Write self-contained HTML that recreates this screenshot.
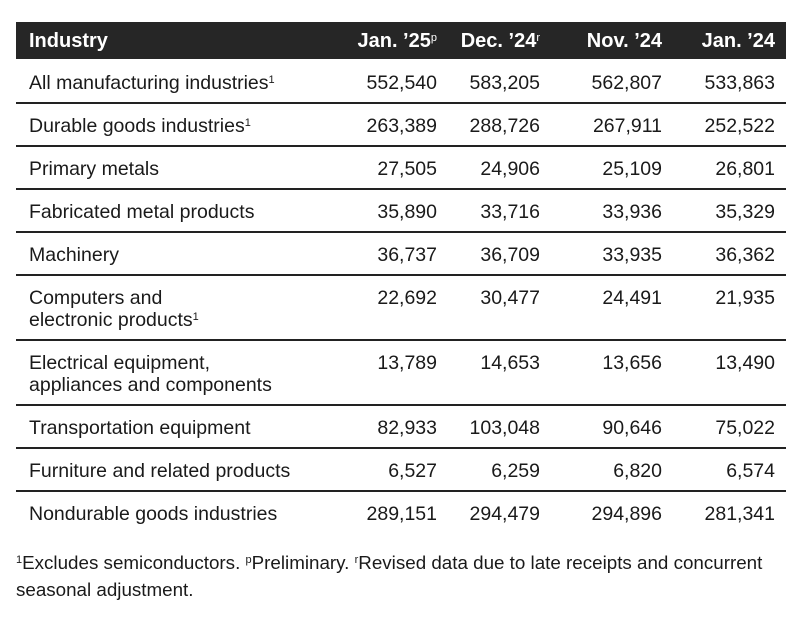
<!DOCTYPE html>
<html><head><style>
body{margin:0;width:800px;height:620px;background:#fff;font-family:"Liberation Sans",sans-serif;color:#1a1a1a;position:relative;overflow:hidden}
.hdr{position:absolute;left:16px;top:22px;width:770px;height:37px;background:#262626}
.t{position:absolute;font-size:19.5px;line-height:22px;white-space:nowrap}
.h{color:#fff;font-weight:bold;font-size:20px}
.r{text-align:right}
.ln{position:absolute;left:16px;width:770px;height:2px;background:#222}
sup{font-size:11px;vertical-align:6px;line-height:0}
.f{position:absolute;left:16px;font-size:18.8px;line-height:27px;width:790px;white-space:nowrap}
</style></head><body>
<div class="hdr"></div>
<div class="t h" style="left:29px;top:30px">Industry</div>
<div class="t h r" style="right:363px;top:30px">Jan. ’25<sup style="font-weight:normal">p</sup></div>
<div class="t h r" style="right:260px;top:30px">Dec. ’24<sup style="font-weight:normal">r</sup></div>
<div class="t h r" style="right:138px;top:30px">Nov. ’24</div>
<div class="t h r" style="right:25px;top:30px">Jan. ’24</div>

<div class="ln" style="top:102px"></div>
<div class="ln" style="top:145px"></div>
<div class="ln" style="top:188px"></div>
<div class="ln" style="top:231px"></div>
<div class="ln" style="top:274px"></div>
<div class="ln" style="top:339px"></div>
<div class="ln" style="top:404px"></div>
<div class="ln" style="top:447px"></div>
<div class="ln" style="top:490px"></div>

<div id="rows"></div>
<script>
var d=[
[72,"All manufacturing industries<sup>1</sup>","552,540","583,205","562,807","533,863"],
[115,"Durable goods industries<sup>1</sup>","263,389","288,726","267,911","252,522"],
[158,"Primary metals","27,505","24,906","25,109","26,801"],
[201,"Fabricated metal products","35,890","33,716","33,936","35,329"],
[244,"Machinery","36,737","36,709","33,935","36,362"],
[287,"Computers and<br>electronic products<sup>1</sup>","22,692","30,477","24,491","21,935"],
[352,"Electrical equipment,<br>appliances and components","13,789","14,653","13,656","13,490"],
[417,"Transportation equipment","82,933","103,048","90,646","75,022"],
[460,"Furniture and related products","6,527","6,259","6,820","6,574"],
[503,"Nondurable goods industries","289,151","294,479","294,896","281,341"]];
var rr=[363,260,138,25],h="";
d.forEach(function(r){h+='<div class="t" style="left:29px;top:'+r[0]+'px">'+r[1]+'</div>';
for(var i=0;i<4;i++)h+='<div class="t r" style="right:'+rr[i]+'px;top:'+r[0]+'px">'+r[i+2]+'</div>';});
document.getElementById('rows').innerHTML=h;
</script>
<div class="f" style="top:549px"><sup>1</sup>Excludes semiconductors. <sup>p</sup>Preliminary. <sup>r</sup>Revised data due to late receipts and concurrent<br>seasonal adjustment.</div>
</body></html>
